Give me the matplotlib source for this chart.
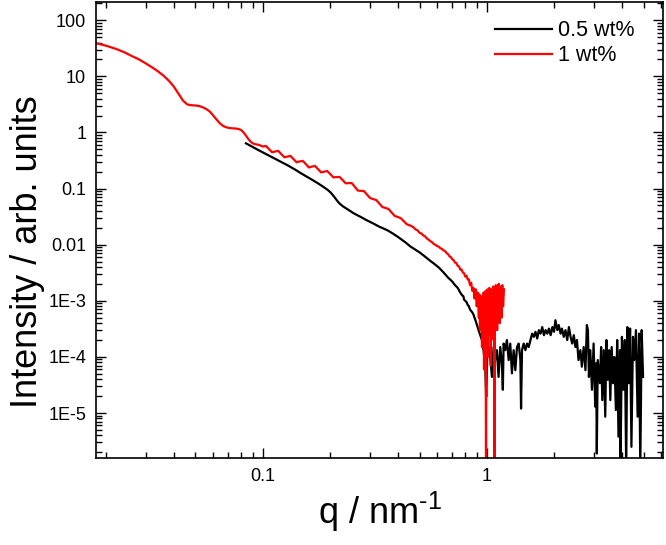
import matplotlib
matplotlib.use("Agg")
import matplotlib.pyplot as plt
from matplotlib.ticker import FixedLocator, FixedFormatter, LogLocator, NullFormatter

plt.rcParams['font.family'] = ['Liberation Sans', 'DejaVu Sans']
plt.rcParams['mathtext.fontset'] = 'custom'
plt.rcParams['mathtext.rm'] = 'Liberation Sans'

# ---------------- data ----------------
series_labels = ['0.5 wt%', '1 wt%']

q_05 = [0.084, 0.09, 0.095, 0.1, 0.11, 0.12, 0.13, 0.14, 0.147, 0.155, 0.165, 0.175, 0.185,
        0.195, 0.2, 0.205, 0.21, 0.215, 0.22, 0.228, 0.24, 0.255, 0.27, 0.292, 0.31, 0.33,
        0.36, 0.38, 0.4, 0.43, 0.455, 0.48, 0.5, 0.53, 0.56, 0.58, 0.61, 0.64, 0.67, 0.70,
        0.72, 0.74, 0.76, 0.775, 0.785, 0.79, 0.80, 0.81, 0.82, 0.83, 0.84, 0.85, 0.86, 0.87,
        0.88, 0.89, 0.90, 0.91, 0.92, 0.925,
        0.933, 0.949, 0.965, 0.982, 0.992, 1.005, 1.016, 1.034, 1.052, 1.07, 1.088, 1.107,
        1.126, 1.146, 1.165, 1.177, 1.186, 1.206, 1.227, 1.249, 1.27, 1.292, 1.315, 1.338,
        1.361, 1.385, 1.409, 1.419, 1.433, 1.458, 1.484, 1.51, 1.536, 1.563, 1.59, 1.618,
        1.646, 1.675, 1.704, 1.734, 1.764, 1.795, 1.826, 1.858, 1.89, 1.923, 1.957, 1.991,
        2.02, 2.06, 2.09, 2.13, 2.16, 2.20, 2.24, 2.28, 2.32, 2.36, 2.40, 2.44, 2.48, 2.52,
        2.56, 2.61, 2.65, 2.70, 2.75, 2.79, 2.82, 2.85, 2.89, 2.94, 2.99, 3.04, 3.07, 3.09,
        3.12, 3.19, 3.23, 3.27, 3.32, 3.37, 3.41, 3.46, 3.51, 3.55, 3.60, 3.65, 3.70, 3.76,
        3.81, 3.86, 3.92, 3.94, 4.00, 4.06, 4.12, 4.18, 4.23, 4.29, 4.35, 4.41, 4.48, 4.54,
        4.62, 4.70, 4.77, 4.83, 4.90, 4.97]
I_05 = [0.64, 0.55, 0.49, 0.44, 0.36, 0.30, 0.255, 0.215, 0.19, 0.168, 0.145, 0.126, 0.109,
        0.094, 0.086, 0.077, 0.068, 0.060, 0.054, 0.048, 0.042, 0.036, 0.032, 0.027, 0.024, 0.021,
        0.018, 0.0158, 0.0138, 0.0112, 0.0093, 0.0081, 0.0073, 0.0061, 0.0051, 0.0046, 0.0039,
        0.0032, 0.0026, 0.0022, 0.0019, 0.0017, 0.0014, 0.00125, 0.0012, 0.00105, 0.0010,
        0.00095, 0.00085, 0.0008, 0.0007, 0.00066, 0.00062, 0.00057, 0.0005, 0.00044, 0.00038,
        0.00033, 0.00029, 0.00027,
        2.44e-4, 2.0e-4, 1.32e-4, 6.7e-5, 1.95e-5, 1.5e-4, 1.5e-4, 1.0e-4, 4.4e-5, 1.5e-4,
        8.8e-5, 1.32e-4, 4.4e-5, 1.5e-4, 7.7e-5, 2.6e-5, 1.73e-4, 1.32e-4, 2.0e-4, 8.8e-5,
        1.73e-4, 5.1e-5, 1.32e-4, 5.8e-5, 1.5e-4, 1.73e-4, 8.8e-5, 1.2e-5, 1.32e-4, 1.73e-4,
        1.32e-4, 1.73e-4, 1.5e-4, 2.0e-4, 2.6e-4, 2.28e-4, 2.8e-4, 2.13e-4, 3.0e-4, 2.6e-4,
        3.4e-4, 2.44e-4, 3.0e-4, 2.6e-4, 3.2e-4, 2.44e-4, 3.4e-4, 2.8e-4, 4.5e-4, 3.0e-4,
        3.7e-4, 2.6e-4, 3.2e-4, 2.28e-4, 3.0e-4, 2.0e-4, 3.4e-4, 2.28e-4, 1.73e-4, 2.44e-4,
        1.5e-4, 2.0e-4, 8.8e-5, 1.32e-4, 6.7e-5, 1.5e-4, 5.8e-5, 3.7e-4, 3.0e-4, 4.4e-5,
        1.32e-4, 2.6e-5, 1.73e-4, 1.3e-5, 7.7e-5, 1.9e-6, 8.8e-5, 3.4e-5, 1.5e-4, 1.7e-5,
        1.32e-4, 8.6e-6, 2.0e-4, 3.9e-5, 1.32e-4, 1.7e-5, 1.5e-4, 3.4e-5, 1.0e-4, 1.13e-5,
        2.0e-4, 3.8e-6, 1.32e-4, 1e-6, 2.28e-4, 2.6e-5, 2.0e-4, 1e-6, 3.4e-4, 3.4e-5,
        3.2e-4, 2.5e-6, 2.28e-4, 8.8e-5, 3.0e-4, 8.6e-6, 2.6e-4, 1e-6, 3.0e-4, 4.4e-5]

q_1 = [0.018, 0.020, 0.022, 0.024, 0.026, 0.028, 0.030, 0.032, 0.034, 0.036, 0.038, 0.040,
       0.042, 0.044, 0.046, 0.048, 0.050, 0.052, 0.054, 0.056, 0.058, 0.060, 0.062, 0.064,
       0.066, 0.068, 0.070, 0.072, 0.074, 0.076, 0.078, 0.080, 0.082, 0.084, 0.086, 0.088,
       0.090, 0.092, 0.094, 0.096, 0.098,
       0.1, 0.1032, 0.1065, 0.1099, 0.1134, 0.1171, 0.1208, 0.1247, 0.1287, 0.1328, 0.137,
       0.1414, 0.1459, 0.1506, 0.1554, 0.1604, 0.1655, 0.1708, 0.1763, 0.1819, 0.1878,
       0.1938, 0.2, 0.2064, 0.213, 0.2198, 0.2268, 0.2341, 0.2416, 0.2493, 0.2573, 0.2655,
       0.274, 0.2828, 0.2918, 0.3012, 0.3108, 0.3207, 0.331, 0.3416, 0.3525, 0.3638, 0.3754,
       0.3874, 0.3998, 0.4126, 0.4258, 0.4394, 0.4535, 0.468,
       0.48, 0.49, 0.50, 0.51, 0.52, 0.53, 0.54, 0.55, 0.56, 0.57, 0.58, 0.59,
       0.60, 0.61, 0.62, 0.63, 0.64, 0.65, 0.66, 0.67, 0.68, 0.69, 0.70, 0.71, 0.72, 0.73,
       0.74, 0.75, 0.76, 0.77, 0.78, 0.79, 0.80, 0.81, 0.82, 0.83, 0.84, 0.85, 0.86, 0.87,
       0.88, 0.89, 0.90, 0.91, 0.92, 0.925, 0.93,
       0.935, 0.94, 0.945, 0.95, 0.955, 0.96, 0.965, 0.97, 0.975, 0.98, 0.985, 0.99, 0.995,
       1.0, 1.005, 1.01, 1.015, 1.02, 1.025, 1.03, 1.035, 1.04, 1.045, 1.05, 1.055, 1.06,
       1.065, 1.07, 1.075, 1.08, 1.085, 1.09, 1.095, 1.10, 1.105, 1.11, 1.12, 1.125, 1.13,
       1.14, 1.15, 1.16, 1.17, 1.18, 1.19]
I_1 = [39, 35, 31, 27, 23, 20, 17, 14.5, 12.3, 10.3, 8.4, 6.6,
       4.9, 3.7, 3.15, 3.05, 3.02, 2.95, 2.8, 2.6, 2.35, 2.0, 1.7, 1.48,
       1.33, 1.25, 1.21, 1.19, 1.18, 1.17, 1.15, 1.1, 1.0, 0.88, 0.77, 0.69,
       0.64, 0.62, 0.61, 0.60, 0.58,
       0.56, 0.575, 0.506, 0.443, 0.457, 0.469, 0.412, 0.361, 0.372, 0.381, 0.336,
       0.294, 0.304, 0.311, 0.274, 0.238, 0.246, 0.253, 0.222, 0.194, 0.200,
       0.205, 0.180, 0.158, 0.160, 0.161, 0.142, 0.124, 0.125, 0.125, 0.107, 0.092,
       0.091, 0.090, 0.0775, 0.0676, 0.065, 0.0623, 0.054, 0.0468, 0.0451, 0.0432, 0.0375,
       0.0325, 0.0312, 0.0296, 0.0261, 0.0230, 0.0220, 0.0207,
       0.0187, 0.0180, 0.0163, 0.0158, 0.0146, 0.0140, 0.0128, 0.0122, 0.0115,
       0.0110, 0.0102, 0.0099, 0.0094, 0.0092, 0.0086, 0.0084, 0.0079, 0.0077, 0.0071, 0.0068,
       0.0062, 0.0060, 0.0055, 0.0053, 0.0048, 0.0047, 0.0042, 0.0041, 0.0036, 0.0036, 0.0032,
       0.0031, 0.0027, 0.0028, 0.0024, 0.0024, 0.0019, 0.0021, 0.0015, 0.0017,
       0.0011, 0.0016, 0.0008, 0.0014, 0.0005, 0.0013, 0.0003,
       8e-4, 3e-4, 1.2e-3, 1.5e-4, 1.0e-3, 4e-4, 1.4e-3, 6e-5, 1.1e-3, 2e-4, 1.5e-3, 1e-6, 1.3e-3,
       3e-4, 1.6e-3, 1e-4, 1.2e-3, 5e-4, 1.7e-3, 2.5e-4, 1.4e-3, 7e-5, 1.6e-3, 3e-4, 1.2e-3, 5e-4,
       1.8e-3, 2e-4, 1.5e-3, 1e-6, 1.7e-3, 4e-4, 1.9e-3, 6e-4, 1.5e-3, 3e-4, 1.9e-3, 7e-4, 2e-3,
       4e-4, 1.8e-3, 5e-4, 1.9e-3, 8e-4, 1.6e-3]

x_ticks = [0.1, 1]
x_tick_labels = ['0.1', '1']
y_ticks = [100, 10, 1, 0.1, 0.01, 1e-3, 1e-4, 1e-5]
y_tick_labels = ['100', '10', '1', '0.1', '0.01', '1E-3', '1E-4', '1E-5']
x_limits = (0.018, 6.1)
y_limits = (1.58e-6, 215)

# ---------------- plot ----------------
fig = plt.figure(figsize=(6.66, 5.45), dpi=100)
ax = fig.add_axes([0.1441, 0.1596, 0.8514, 0.8376])

ax.plot(q_05, I_05, color='black', lw=1.6, label=series_labels[0])
ax.plot(q_1, I_1, color='#ff0000', lw=1.6, label=series_labels[1])

ax.set_xscale('log')
ax.set_yscale('log')
ax.set_xlim(*x_limits)
ax.set_ylim(*y_limits)

ax.xaxis.set_major_locator(FixedLocator(x_ticks))
ax.xaxis.set_major_formatter(FixedFormatter(x_tick_labels))
ax.yaxis.set_major_locator(FixedLocator(y_ticks))
ax.yaxis.set_major_formatter(FixedFormatter(y_tick_labels))
ax.xaxis.set_minor_locator(LogLocator(base=10, subs=range(2, 10), numticks=20))
ax.yaxis.set_minor_locator(LogLocator(base=10, subs=range(2, 10), numticks=20))
ax.xaxis.set_minor_formatter(NullFormatter())
ax.yaxis.set_minor_formatter(NullFormatter())

ax.tick_params(which='both', direction='in', top=True, right=True, width=1.0, labelsize=13)
ax.tick_params(which='major', length=7, pad=7)
ax.tick_params(which='minor', length=4)
for s in ax.spines.values():
    s.set_linewidth(1.2)

ax.set_xlabel('q / nm$\\mathregular{^{\u20101}}$', fontsize=26, labelpad=4)
ax.set_ylabel('Intensity / arb. units', fontsize=26)
ax.yaxis.set_label_coords(-0.09, 0.453)

ax.legend(loc='upper left', bbox_to_anchor=(0.6886, 0.978), frameon=False, fontsize=15.5,
          handlelength=2.65, handletextpad=0.28, labelspacing=0.2, borderaxespad=0.0)

fig.savefig('out.png', dpi=100)
